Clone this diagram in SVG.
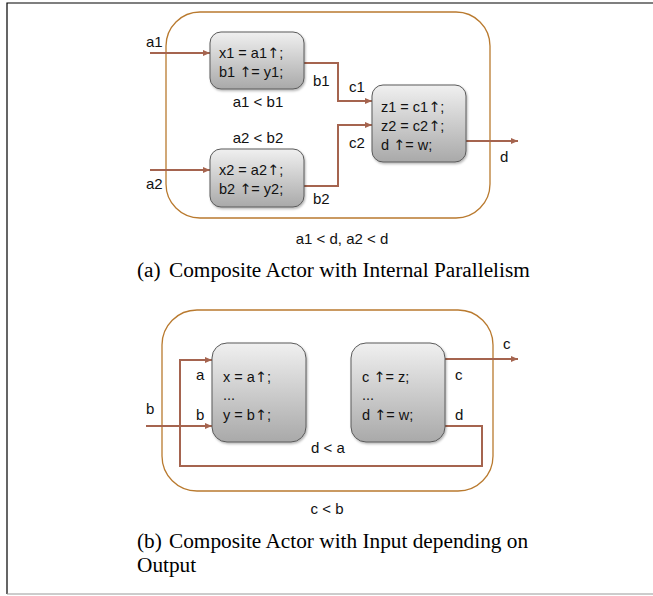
<svg xmlns="http://www.w3.org/2000/svg" width="653" height="596" viewBox="0 0 653 596">
  <style>
    .frame { fill: none; stroke: #000; stroke-width: 1.2; }
    .container { fill: #fff; stroke: #b97a2f; stroke-width: 1.3; }
    .box { fill: url(#boxGrad); stroke: #5a5a5a; stroke-width: 1; filter: url(#shadow); }
    .wire { fill: none; stroke: #a5644f; stroke-width: 2; }
    .code { font-family: "Liberation Sans", "DejaVu Sans", sans-serif; font-size: 14.5px; fill: #111; }
    .up { font-family: "DejaVu Sans", sans-serif; }
    .lbl { font-family: "Liberation Sans", "DejaVu Sans", sans-serif; font-size: 15px; fill: #111; }
    .cap { font-family: "Liberation Serif", "Times New Roman", serif; font-size: 21.3px; fill: #000; }
  </style>
  <defs>
    <linearGradient id="boxGrad" x1="0" y1="0" x2="0" y2="1">
      <stop offset="0" stop-color="#f0f0f0"/>
      <stop offset="1" stop-color="#a9a9a9"/>
    </linearGradient>
    <filter id="shadow" x="-10%" y="-10%" width="125%" height="125%">
      <feDropShadow dx="1" dy="1.5" stdDeviation="1" flood-color="#000" flood-opacity="0.3"/>
    </filter>
    <marker id="arrow" markerWidth="8" markerHeight="8" refX="7" refY="4" orient="auto" markerUnits="userSpaceOnUse">
      <path d="M0,1 L7,4 L0,7 Z" fill="#a5644f"/>
    </marker>
  </defs>

  <!-- page frame -->
  <path class="frame" d="M653,3 H7 V594"/>
  <line x1="7" y1="594" x2="653" y2="594" stroke="#999" stroke-width="1"/>

  <!-- (a) composite actor with internal parallelism -->
  <g id="compositeA">
    <rect class="container" x="166" y="12" width="324" height="206" rx="34"/>
  </g>

  <g id="connectorsA">
    <line class="wire" x1="150" y1="53" x2="210" y2="53" marker-end="url(#arrow)"/>
    <line class="wire" x1="150" y1="170" x2="210" y2="170" marker-end="url(#arrow)"/>
    <polyline class="wire" points="304,63 338,63 338,101 372,101" marker-end="url(#arrow)"/>
    <polyline class="wire" points="304,186 338,186 338,125 372,125" marker-end="url(#arrow)"/>
    <line class="wire" x1="466" y1="141" x2="518" y2="141" marker-end="url(#arrow)"/>
  </g>

  <g id="actorX1">
    <rect class="box" x="210" y="32" width="94" height="57" rx="11"/>
    <text class="code" x="219" y="58">x1 = a1<tspan class="up">↑</tspan>;</text>
    <text class="code" x="219" y="77">b1 <tspan class="up">↑</tspan>= y1;</text>
  </g>
  <g id="actorX2">
    <rect class="box" x="210" y="149" width="94" height="58" rx="11"/>
    <text class="code" x="219" y="175">x2 = a2<tspan class="up">↑</tspan>;</text>
    <text class="code" x="219" y="194">b2 <tspan class="up">↑</tspan>= y2;</text>
  </g>
  <g id="actorZ">
    <rect class="box" x="372" y="85" width="94" height="77" rx="11"/>
    <text class="code" x="381" y="112">z1 = c1<tspan class="up">↑</tspan>;</text>
    <text class="code" x="381" y="131">z2 = c2<tspan class="up">↑</tspan>;</text>
    <text class="code" x="381" y="150">d <tspan class="up">↑</tspan>= w;</text>
  </g>

  <g id="labelsA">
    <text class="lbl" x="146" y="47">a1</text>
    <text class="lbl" x="146" y="189">a2</text>
    <text class="lbl" x="313" y="86">b1</text>
    <text class="lbl" x="349" y="92">c1</text>
    <text class="lbl" x="349" y="148">c2</text>
    <text class="lbl" x="500" y="162">d</text>
    <text class="lbl" x="313" y="204">b2</text>
    <text class="lbl" x="258" y="107" text-anchor="middle">a1 &lt; b1</text>
    <text class="lbl" x="258" y="143" text-anchor="middle">a2 &lt; b2</text>
    <text class="lbl" x="342" y="244" text-anchor="middle">a1 &lt; d, a2 &lt; d</text>
  </g>
  <text class="cap" x="137" y="277">(a)<tspan x="169">Composite Actor with Internal Parallelism</tspan></text>

  <!-- (b) composite actor with input depending on output -->
  <g id="compositeB">
    <rect class="container" x="162" y="310" width="331" height="181" rx="35"/>
  </g>

  <g id="connectorsB">
    <line class="wire" x1="146" y1="426" x2="212" y2="426" marker-end="url(#arrow)"/>
    <polyline class="wire" points="445,426 482,426 482,466 180,466 180,360 212,360" marker-end="url(#arrow)"/>
    <line class="wire" x1="445" y1="359" x2="518" y2="359" marker-end="url(#arrow)"/>
  </g>

  <g id="actorLeft">
    <rect class="box" x="212" y="343" width="94" height="99" rx="15"/>
    <text class="code" x="223" y="382">x = a<tspan class="up">↑</tspan>;</text>
    <text class="code" x="223" y="400">...</text>
    <text class="code" x="223" y="420">y = b<tspan class="up">↑</tspan>;</text>
  </g>
  <g id="actorRight">
    <rect class="box" x="351" y="343" width="94" height="99" rx="15"/>
    <text class="code" x="362" y="382">c <tspan class="up">↑</tspan>= z;</text>
    <text class="code" x="362" y="400">...</text>
    <text class="code" x="362" y="420">d <tspan class="up">↑</tspan>= w;</text>
  </g>

  <g id="labelsB">
    <text class="lbl" x="146" y="414">b</text>
    <text class="lbl" x="196" y="380">a</text>
    <text class="lbl" x="196" y="420">b</text>
    <text class="lbl" x="455" y="380">c</text>
    <text class="lbl" x="455" y="420">d</text>
    <text class="lbl" x="503" y="349">c</text>
    <text class="lbl" x="328" y="453" text-anchor="middle">d &lt; a</text>
    <text class="lbl" x="327" y="514" text-anchor="middle">c &lt; b</text>
  </g>
  <text class="cap" x="137" y="548">(b)<tspan x="169">Composite Actor with Input depending on</tspan></text>
  <text class="cap" x="137" y="572">Output</text>
</svg>
